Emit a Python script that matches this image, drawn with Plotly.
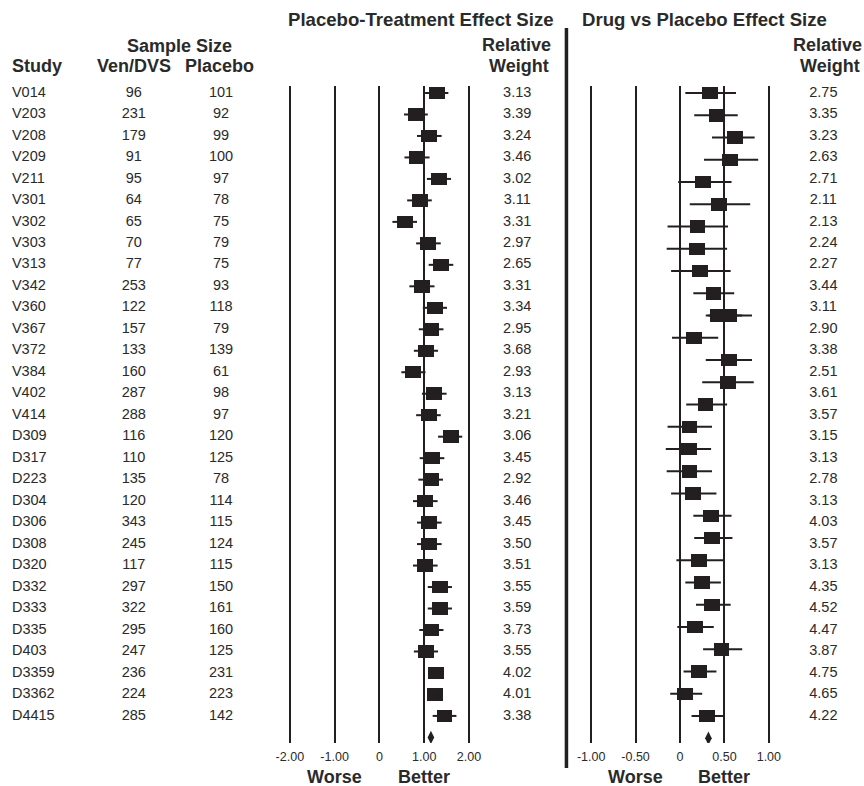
import numpy as np
import plotly.graph_objects as go

# ---------------- data ----------------
studies = ["V014", "V203", "V208", "V209", "V211", "V301", "V302", "V303", "V313", "V342",
           "V360", "V367", "V372", "V384", "V402", "V414", "D309", "D317", "D223", "D304",
           "D306", "D308", "D320", "D332", "D333", "D335", "D403", "D3359", "D3362", "D4415"]
n_drug = [96, 231, 179, 91, 95, 64, 65, 70, 77, 253, 122, 157, 133, 160, 287, 288, 116, 110, 135, 120,
          343, 245, 117, 297, 322, 295, 247, 236, 224, 285]
n_placebo = [101, 92, 99, 100, 97, 78, 75, 79, 75, 93, 118, 79, 139, 61, 98, 97, 120, 125, 78, 114,
             115, 124, 115, 150, 161, 160, 125, 231, 223, 142]

# Placebo-treatment effect size
pte_es = [1.28, 0.82, 1.10, 0.84, 1.32, 0.90, 0.57, 1.09, 1.37, 0.95, 1.24, 1.15, 1.04, 0.75, 1.22,
          1.10, 1.60, 1.17, 1.15, 1.02, 1.10, 1.10, 1.02, 1.35, 1.35, 1.15, 1.04, 1.26, 1.24, 1.45]
pte_lo = [1.02, 0.55, 0.84, 0.56, 1.06, 0.62, 0.29, 0.82, 1.10, 0.67, 0.97, 0.88, 0.77, 0.49, 0.95,
          0.82, 1.31, 0.90, 0.87, 0.75, 0.84, 0.84, 0.75, 1.08, 1.08, 0.89, 0.77, 1.12, 1.10, 1.19]
pte_hi = [1.54, 1.08, 1.39, 1.12, 1.60, 1.17, 0.84, 1.37, 1.65, 1.23, 1.51, 1.43, 1.31, 1.03, 1.50,
          1.37, 1.85, 1.45, 1.42, 1.30, 1.39, 1.39, 1.30, 1.62, 1.62, 1.43, 1.31, 1.40, 1.38, 1.72]
pte_weight = ["3.13", "3.39", "3.24", "3.46", "3.02", "3.11", "3.31", "2.97", "2.65", "3.31",
              "3.34", "2.95", "3.68", "2.93", "3.13", "3.21", "3.06", "3.45", "2.92", "3.46",
              "3.45", "3.50", "3.51", "3.55", "3.59", "3.73", "3.55", "4.02", "4.01", "3.38"]
pte_summary = 1.15

# Drug vs placebo effect size (as drawn: 29 plotted slots, slot 10 holds two studies)
dvp_es = [0.34, 0.42, 0.62, 0.57, 0.26, 0.44, 0.20, 0.19, 0.23, 0.38, 0.43, 0.55, 0.16, 0.55, 0.54,
          0.29, 0.11, 0.10, 0.11, 0.15, 0.35, 0.36, 0.22, 0.25, 0.36, 0.17, 0.47, 0.22, 0.06, 0.31]
dvp_lo = [0.06, 0.16, 0.36, 0.27, -0.02, 0.11, -0.14, -0.15, -0.10, 0.15, 0.29, 0.32, -0.09, 0.29, 0.25,
          0.07, -0.14, -0.16, -0.15, -0.10, 0.15, 0.16, -0.04, 0.06, 0.18, -0.03, 0.26, 0.04, -0.11, 0.13]
dvp_hi = [0.63, 0.65, 0.84, 0.88, 0.58, 0.79, 0.54, 0.53, 0.57, 0.61, 0.70, 0.81, 0.43, 0.81, 0.83,
          0.53, 0.36, 0.35, 0.36, 0.41, 0.58, 0.59, 0.49, 0.46, 0.57, 0.38, 0.70, 0.41, 0.25, 0.50]
dvp_slot = [0, 1, 2, 3, 4, 5, 6, 7, 8, 9, 10, 10, 11, 12, 13, 14, 15, 16, 17, 18,
            19, 20, 21, 22, 23, 24, 25, 26, 27, 28]
dvp_weight = ["2.75", "3.35", "3.23", "2.63", "2.71", "2.11", "2.13", "2.24", "2.27", "3.44",
              "3.11", "2.90", "3.38", "2.51", "3.61", "3.57", "3.15", "3.13", "2.78", "3.13",
              "4.03", "3.57", "3.13", "4.35", "4.52", "4.47", "3.87", "4.75", "4.65", "4.22"]
dvp_summary = 0.32

pte_ticks = [-2, -1, 0, 1, 2]
pte_ticktext = ["-2.00", "-1.00", "0", "1.00", "2.00"]
dvp_ticks = [-1, -0.5, 0, 0.5, 1]
dvp_ticktext = ["-1.00", "-0.50", "0", "0.50", "1.00"]

# ---------------- geometry / style ----------------
W, H = 864, 786
ROW0, ROW_STEP, SLOT_STEP = 93.0, 21.48, 22.25
GRID_TOP, GRID_BOT = 86.0, 743.0
L_C, L_S, L_R = 377.9, 45.2, 2.2      # left panel: px of zero, px per unit, half range
R_C, R_S, R_R = 681.3, 89.7, 1.1      # right panel
INK = "#231f20"
TXT = "#2a2a2a"
FONT = "Liberation Sans, Arial, Helvetica, sans-serif"
NUM_SIZE = 14.5
HEAD_SIZE = 18


def fx(p):
    return p / W


def fy(p):
    return 1 - p / H


n = len(studies)
rows = np.arange(1, n + 1)

fig = go.Figure()


def ci_segments(lo, hi, ys):
    xs, yy = [], []
    for a, b, y in zip(lo, hi, ys):
        xs += [a, b, None]
        yy += [y, y, None]
    return xs, yy


# ---- left panel ----
hw_l = 8.0 / L_S
fig.add_trace(go.Bar(orientation="h", y=rows, x=np.full(n, 2 * hw_l), base=np.array(pte_es) - hw_l,
                     width=12.5 / ROW_STEP, marker=dict(color=INK, line=dict(width=0)),
                     xaxis="x", yaxis="y", showlegend=False, hoverinfo="skip"))
xs, ys = ci_segments(pte_lo, pte_hi, rows)
fig.add_trace(go.Scatter(x=xs, y=ys, mode="lines", line=dict(color=INK, width=2),
                         xaxis="x", yaxis="y", showlegend=False, hoverinfo="skip"))
fig.add_trace(go.Scatter(x=[pte_summary], y=[n + 1], mode="markers",
                         marker=dict(symbol="diamond-tall", size=9.5, color=INK),
                         xaxis="x", yaxis="y", showlegend=False, hoverinfo="skip"))

# ---- right panel ----
hw_r = 8.0 / R_S
slots = np.array(dvp_slot)
fig.add_trace(go.Bar(orientation="h", y=slots, x=np.full(n, 2 * hw_r), base=np.array(dvp_es) - hw_r,
                     width=12.5 / SLOT_STEP, marker=dict(color=INK, line=dict(width=0)),
                     xaxis="x2", yaxis="y2", showlegend=False, hoverinfo="skip"))
xs, ys = ci_segments(dvp_lo, dvp_hi, slots)
fig.add_trace(go.Scatter(x=xs, y=ys, mode="lines", line=dict(color=INK, width=2),
                         xaxis="x2", yaxis="y2", showlegend=False, hoverinfo="skip"))
fig.add_trace(go.Scatter(x=[dvp_summary], y=[max(dvp_slot) + 1], mode="markers",
                         marker=dict(symbol="diamond-tall", size=9.5, color=INK),
                         xaxis="x2", yaxis="y2", showlegend=False, hoverinfo="skip"))

# ---- table text ----
tf = dict(family=FONT, size=NUM_SIZE, color=TXT)
for xpos, vals, pos in [(7, studies, "middle right"), (130, n_drug, "middle center"),
                        (218, n_placebo, "middle center"), (517, pte_weight, "middle center"),
                        (826, dvp_weight, "middle center")]:
    fig.add_trace(go.Scatter(x=np.full(n, xpos), y=rows, text=[str(v) for v in vals], mode="text",
                             textposition=pos, textfont=tf, xaxis="x3", yaxis="y3",
                             showlegend=False, hoverinfo="skip"))

# ---- axes ----
dom_y = [fy(GRID_BOT), fy(GRID_TOP)]
grid = dict(showgrid=True, gridcolor=INK, gridwidth=2, zeroline=False, showline=False,
            ticks="", tickfont=dict(family=FONT, size=12.5, color=TXT), fixedrange=True,
            ticklabelstandoff=4)
fig.update_layout(
    width=W, height=H, margin=dict(l=0, r=0, t=0, b=0),
    paper_bgcolor="white", plot_bgcolor="rgba(0,0,0,0)",
    barmode="overlay", bargap=0,
    xaxis=dict(domain=[fx(L_C - L_R * L_S), fx(L_C + L_R * L_S)], range=[-L_R, L_R],
               tickvals=pte_ticks, ticktext=pte_ticktext, anchor="y", **grid),
    yaxis=dict(domain=dom_y,
               range=[1 + (GRID_BOT - ROW0) / ROW_STEP, 1 + (GRID_TOP - ROW0) / ROW_STEP],
               visible=False, anchor="x", fixedrange=True),
    xaxis2=dict(domain=[fx(R_C - R_R * R_S), fx(R_C + R_R * R_S)], range=[-R_R, R_R],
                tickvals=dvp_ticks, ticktext=dvp_ticktext, anchor="y2", **grid),
    yaxis2=dict(domain=dom_y,
                range=[(GRID_BOT - ROW0) / SLOT_STEP, (GRID_TOP - ROW0) / SLOT_STEP],
                visible=False, anchor="x2", fixedrange=True),
    xaxis3=dict(domain=[0, 1], range=[0, W], visible=False, anchor="y3", fixedrange=True),
    yaxis3=dict(domain=[0, 1], range=[1 + (H - ROW0) / ROW_STEP, 1 - ROW0 / ROW_STEP],
                visible=False, anchor="x3", fixedrange=True),
    font=dict(family=FONT, color=TXT),
)

# ---- headers ----
def head(text, x, y, xanchor="center", size=HEAD_SIZE, xref="paper"):
    fig.add_annotation(text="<b>%s</b>" % text, x=x, y=fy(y), xref=xref, yref="paper",
                       xanchor=xanchor, yanchor="middle", showarrow=False,
                       font=dict(family=FONT, size=size, color=TXT))


head("Placebo-Treatment Effect Size", fx(420), 19, size=18.6)
head("Drug vs Placebo Effect Size", fx(706), 19, size=18.6)
head("Sample Size", fx(176), 46)
head("Study", fx(5), 66, xanchor="left")
head("Ven/DVS", fx(130), 66)
head("Placebo", fx(217), 66)
head("Relative", fx(553), 45, xanchor="right")
head("Weight", fx(551), 66, xanchor="right")
head("Relative", fx(867), 45, xanchor="right")
head("Weight", fx(865), 66, xanchor="right")
head("Worse", -1, 776.5, xref="x")
head("Better", 1, 776.5, xref="x")
head("Worse", -0.5, 776.5, xref="x2")
head("Better", 0.5, 776.5, xref="x2")

# thick separator
fig.add_shape(type="line", xref="paper", yref="paper", x0=fx(566.7), x1=fx(566.7),
              y0=fy(28), y1=fy(768), line=dict(color=INK, width=3.5))

fig.write_html("out.html")
